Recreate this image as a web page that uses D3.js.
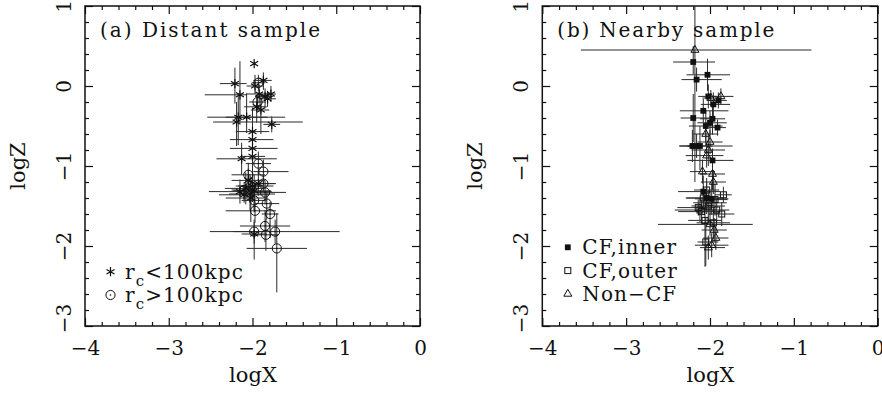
<!DOCTYPE html>
<html>
<head>
<meta charset="utf-8">
<script src="https://cdn.jsdelivr.net/npm/d3@7"></script>
<style>
  body { margin: 0; background: #fff; }
  text { font-family: "DejaVu Serif", serif; fill: #111; }
</style>
</head>
<body>
<svg id="chart" width="882" height="397"></svg>
<script>
// each row: [logX, logZ, dX-, dX+, dZ-, dZ+]
const distantSmall = [
  [-1.98, 0.28, 0, 0, 0, 0],
  [-2.21, 0.03, 0.18, 0.14, 0.25, 0.20],
  [-1.97, 0.00, 0.10, 0.10, 0.10, 0.14],
  [-1.87, 0.07, 0.12, 0.10, 0.12, 0.10],
  [-2.15, -0.11, 0.42, 0.08, 0.35, 0.42],
  [-1.92, -0.10, 0.15, 0.15, 0.12, 0.12],
  [-1.85, -0.13, 0.12, 0.10, 0.15, 0.10],
  [-1.78, -0.10, 0.08, 0.06, 0.10, 0.10],
  [-1.82, -0.16, 0.10, 0.10, 0.10, 0.10],
  [-1.95, -0.26, 0.15, 0.12, 0.20, 0.15],
  [-1.90, -0.30, 0.12, 0.10, 0.30, 0.20],
  [-2.17, -0.39, 0.37, 0.56, 0.35, 0.30],
  [-2.07, -0.39, 0.25, 0.25, 0.20, 0.30],
  [-2.19, -0.45, 0.28, 0.79, 0.30, 0.25],
  [-1.77, -0.48, 0.10, 0.10, 0.10, 0.10],
  [-2.00, -0.57, 0.20, 0.20, 0.30, 0.30],
  [-2.00, -0.67, 0.27, 0.25, 0.10, 0.10],
  [-2.00, -0.78, 0.27, 0.30, 0.25, 0.20],
  [-2.00, -0.88, 0.15, 0.15, 0.20, 0.20],
  [-2.13, -0.91, 0.30, 0.42, 0.20, 0.20],
  [-2.05, -1.18, 0.20, 0.20, 0.15, 0.15],
  [-2.15, -1.32, 0.37, 0.38, 0.15, 0.15],
  [-2.00, -1.25, 0.20, 0.25, 0.20, 0.20],
  [-1.98, -1.31, 0.25, 0.20, 0.25, 0.20],
  [-2.08, -1.28, 0.25, 0.20, 0.20, 0.20],
  [-2.03, -1.35, 0.25, 0.30, 0.20, 0.25],
  [-1.93, -1.22, 0.10, 0.20, 0.15, 0.15],
  [-2.10, -1.36, 0.30, 0.30, 0.10, 0.10],
  [-2.02, -1.40, 0.30, 0.20, 0.30, 0.20],
  [-1.98, -1.85, 0.15, 0.15, 0.32, 0.15]
];
const distantLarge = [
  [-1.93, 0.04, 0.08, 0.08, 0.10, 0.10],
  [-1.94, -0.20, 0.10, 0.10, 0.10, 0.10],
  [-1.93, -0.97, 0.15, 0.15, 0.15, 0.15],
  [-1.87, -1.07, 0.12, 0.30, 0.15, 0.15],
  [-2.05, -1.11, 0.20, 0.20, 0.15, 0.15],
  [-1.87, -1.22, 0.10, 0.15, 0.10, 0.10],
  [-1.85, -1.33, 0.15, 0.25, 0.15, 0.15],
  [-1.98, -1.43, 0.15, 0.15, 0.15, 0.15],
  [-1.83, -1.47, 0.15, 0.15, 0.20, 0.15],
  [-1.97, -1.56, 0.35, 0.25, 0.15, 0.15],
  [-1.79, -1.60, 0.10, 0.10, 0.30, 0.15],
  [-1.85, -1.75, 0.30, 0.30, 0.20, 0.20],
  [-1.98, -1.82, 0.25, 0.15, 0.15, 0.15],
  [-1.84, -1.86, 0.15, 0.15, 0.20, 0.20],
  [-1.73, -1.82, 0.78, 0.77, 0.15, 0.15],
  [-1.71, -2.03, 0.36, 0.36, 0.55, 0.44],
  [-2.10, -1.30, 0.15, 0.15, 0.10, 0.10],
  [-2.02, -1.25, 0.15, 0.15, 0.12, 0.12]
];
const nearbyInner = [
  [-2.20, 0.30, 0.24, 0.26, 0.15, 0.20],
  [-2.16, 0.08, 0.18, 0.30, 0.15, 0.15],
  [-2.03, 0.14, 0.25, 0.27, 0.20, 0.20],
  [-2.02, -0.13, 0.12, 0.10, 0.15, 0.15],
  [-1.96, -0.23, 0.15, 0.20, 0.20, 0.15],
  [-1.90, -0.18, 0.12, 0.10, 0.10, 0.10],
  [-2.08, -0.31, 0.28, 0.30, 0.15, 0.15],
  [-2.20, -0.40, 0.15, 0.25, 0.30, 0.30],
  [-2.05, -0.50, 0.20, 0.20, 0.20, 0.20],
  [-2.00, -0.46, 0.15, 0.20, 0.15, 0.15],
  [-1.97, -0.41, 0.15, 0.15, 0.20, 0.15],
  [-1.91, -0.52, 0.10, 0.10, 0.10, 0.10],
  [-2.21, -0.75, 0.16, 0.10, 0.20, 0.20],
  [-2.16, -0.75, 0.20, 0.43, 0.15, 0.15],
  [-2.12, -0.75, 0.15, 0.15, 0.30, 0.25],
  [-1.97, -0.93, 0.30, 0.25, 0.15, 0.15],
  [-2.08, -1.32, 0.30, 0.20, 0.20, 0.20],
  [-2.04, -1.40, 0.25, 0.20, 0.20, 0.20],
  [-1.98, -1.41, 0.20, 0.20, 0.20, 0.20]
];
const nearbyOuter = [
  [-2.08, -1.40, 0.20, 0.20, 0.15, 0.15],
  [-1.84, -1.36, 0.10, 0.10, 0.10, 0.10],
  [-2.12, -1.55, 0.30, 0.20, 0.15, 0.15],
  [-2.02, -1.50, 0.20, 0.20, 0.20, 0.20],
  [-1.86, -1.60, 0.15, 0.15, 0.15, 0.15],
  [-2.06, -1.68, 0.20, 0.20, 0.58, 0.30],
  [-1.96, -1.71, 0.20, 0.20, 0.20, 0.15],
  [-2.00, -1.46, 0.20, 0.20, 0.15, 0.15],
  [-2.14, -1.52, 0.25, 0.20, 0.10, 0.10],
  [-1.94, -1.42, 0.15, 0.15, 0.20, 0.20],
  [-2.04, -1.30, 0.15, 0.15, 0.15, 0.15],
  [-1.92, -1.55, 0.15, 0.15, 0.15, 0.15],
  [-2.10, -1.57, 0.28, 0.22, 0.15, 0.15],
  [-2.05, -1.95, 0.10, 0.15, 0.30, 0.30]
];
const nearbyNonCF = [
  [-2.18, 0.45, 1.36, 1.39, 1.65, 0.65],
  [-1.87, -0.13, 0.10, 0.15, 0.10, 0.10],
  [-1.99, -0.15, 0.10, 0.10, 0.10, 0.10],
  [-2.05, -0.60, 0.15, 0.15, 0.15, 0.15],
  [-2.00, -0.70, 0.15, 0.15, 0.15, 0.15],
  [-2.02, -0.80, 0.20, 0.20, 0.20, 0.20],
  [-2.04, -0.87, 0.25, 0.20, 0.15, 0.15],
  [-2.09, -1.07, 0.15, 0.15, 0.15, 0.15],
  [-1.97, -1.10, 0.15, 0.15, 0.20, 0.15],
  [-1.96, -1.20, 0.15, 0.15, 0.15, 0.15],
  [-2.00, -1.73, 0.62, 0.51, 0.15, 0.15],
  [-1.95, -1.80, 0.15, 0.15, 0.15, 0.15],
  [-1.93, -1.90, 0.15, 0.15, 0.15, 0.15],
  [-1.98, -1.99, 0.20, 0.20, 0.15, 0.15],
  [-2.02, -2.02, 0.10, 0.20, 0.15, 0.15]
];

const xMajor = [-4, -3, -2, -1, 0];
const zMajor = [-3, -2, -1, 0, 1];
const xMinor = d3.range(-4, 0.001, 0.2).filter(v => Math.abs(v - Math.round(v)) > 1e-6);
const zMinor = d3.range(-3, 1.001, 0.2).filter(v => Math.abs(v - Math.round(v)) > 1e-6);
const fmt = v => (v < 0 ? "\u2212" + Math.abs(v) : "" + v);

const svg = d3.select("#chart");
const plotTop = 6, plotBottom = 326;
const ink = "#111";

function marker(g, type, cx, cy) {
  if (type === "star") {
    const r = 4.6, p = d3.path();
    [90, 30, -30].forEach(a => {
      const t = a * Math.PI / 180;
      p.moveTo(cx - r * Math.cos(t), cy - r * Math.sin(t));
      p.lineTo(cx + r * Math.cos(t), cy + r * Math.sin(t));
    });
    g.append("path").attr("d", p.toString()).attr("stroke", ink).attr("stroke-width", 1.2).attr("fill", "none");
  } else if (type === "circle") {
    g.append("circle").attr("cx", cx).attr("cy", cy).attr("r", 4.6).attr("fill", "none").attr("stroke", ink).attr("stroke-width", 1);
    g.append("circle").attr("cx", cx).attr("cy", cy).attr("r", 0.8).attr("fill", ink);
  } else if (type === "fsquare") {
    g.append("rect").attr("x", cx - 2.9).attr("y", cy - 2.9).attr("width", 5.8).attr("height", 5.8).attr("fill", ink);
  } else if (type === "osquare") {
    g.append("rect").attr("x", cx - 3).attr("y", cy - 3).attr("width", 6).attr("height", 6).attr("fill", "none").attr("stroke", ink).attr("stroke-width", 1);
  } else if (type === "tri") {
    const s = 8, h = s * Math.sqrt(3) / 2;
    g.append("path")
      .attr("d", `M${cx},${cy - h * 2 / 3}L${cx + s / 2},${cy + h / 3}L${cx - s / 2},${cy + h / 3}Z`)
      .attr("fill", "none").attr("stroke", ink).attr("stroke-width", 1);
  }
}

function drawPanel(p) {
  const x = d3.scaleLinear().domain([-4, 0]).range([p.left, p.right]);
  const y = d3.scaleLinear().domain([-3, 1]).range([plotBottom, plotTop]);
  const g = svg.append("g");

  svg.append("clipPath").attr("id", "clip" + p.id)
    .append("rect").attr("x", p.left).attr("y", plotTop)
    .attr("width", p.right - p.left).attr("height", plotBottom - plotTop);

  // ticks on all four sides, pointing inward
  const sides = [
    [d3.axisBottom, x, xMajor, xMinor, `translate(0,${plotBottom})`],
    [d3.axisTop, x, xMajor, xMinor, `translate(0,${plotTop})`],
    [d3.axisLeft, y, zMajor, zMinor, `translate(${p.left},0)`],
    [d3.axisRight, y, zMajor, zMinor, `translate(${p.right},0)`]
  ];
  sides.forEach(([ax, sc, maj, min, tr], i) => {
    g.append("g").attr("transform", tr)
      .call(ax(sc).tickValues(min).tickSize(-4).tickFormat(""))
      .call(s => s.select(".domain").remove());
    const a = g.append("g").attr("transform", tr)
      .call(ax(sc).tickValues(maj).tickSize(-8).tickPadding(15).tickFormat(i === 0 || i === 2 ? fmt : ""))
      .call(s => s.select(".domain").remove());
    a.attr("font-family", null).attr("font-size", 20);
    if (i === 2) {
      a.selectAll("text")
        .attr("x", 0).attr("y", 0).attr("dy", null)
        .attr("text-anchor", "middle")
        .attr("transform", d => `translate(-14,${d === -3 ? -8 : 0}) rotate(-90)`);
    }
  });
  g.selectAll(".tick line").attr("stroke", ink).attr("stroke-width", 1.2);

  g.append("rect").attr("x", p.left).attr("y", plotTop)
    .attr("width", p.right - p.left).attr("height", plotBottom - plotTop)
    .attr("fill", "none").attr("stroke", ink).attr("stroke-width", 1.5);

  // data
  const d = g.append("g").attr("clip-path", `url(#clip${p.id})`);
  p.series.forEach(s => {
    s.rows.forEach(r => {
      const [lx, lz, xm, xp, zm, zp] = r;
      if (xm + xp > 0) d.append("line").attr("x1", x(lx - xm)).attr("x2", x(lx + xp))
        .attr("y1", y(lz)).attr("y2", y(lz)).attr("stroke", "#2b2b2b").attr("stroke-width", 1);
      if (zm + zp > 0) d.append("line").attr("x1", x(lx)).attr("x2", x(lx))
        .attr("y1", y(lz - zm)).attr("y2", y(lz + zp)).attr("stroke", "#2b2b2b").attr("stroke-width", 1);
    });
  });
  p.series.forEach(s => s.rows.forEach(r => marker(d, s.type, x(r[0]), y(r[1]))));

  // titles
  g.append("text").attr("x", p.left + 15).attr("y", 37).attr("font-size", 20)
    .attr("textLength", p.titleLen).attr("lengthAdjust", "spacing").text(p.title);
  g.append("text").attr("x", (p.left + p.right) / 2 + 0.5).attr("y", 382)
    .attr("font-size", 21).attr("text-anchor", "middle").text("logX");
  g.append("text").attr("transform", `translate(${p.left - 60},166) rotate(-90)`)
    .attr("font-size", 21).attr("text-anchor", "middle").text("logZ");

  // legend
  p.legend.forEach((l, i) => {
    const ly = p.legendY + i * 23.3;
    marker(g, l.type, p.left + 25.5, ly);
    const t = g.append("text").attr("x", p.left + 40).attr("y", ly + 7)
      .attr("font-size", 20).attr("letter-spacing", 1.1);
    if (l.sub) {
      t.append("tspan").text(l.label[0]);
      t.append("tspan").attr("font-size", 15).attr("dy", 7).text(l.sub);
      t.append("tspan").attr("dy", -7).text(l.label[1]);
    } else {
      t.text(l.label);
    }
  });
}

drawPanel({
  id: "a", left: 85, right: 420,
  title: "(a) Distant sample", titleLen: 220,
  series: [{ type: "star", rows: distantSmall }, { type: "circle", rows: distantLarge }],
  legendY: 271.7,
  legend: [
    { type: "star", label: ["r", "<100kpc"], sub: "c" },
    { type: "circle", label: ["r", ">100kpc"], sub: "c" }
  ]
});

drawPanel({
  id: "b", left: 542.3, right: 877.7,
  title: "(b) Nearby sample", titleLen: 217,
  series: [
    { type: "tri", rows: nearbyNonCF },
    { type: "osquare", rows: nearbyOuter },
    { type: "fsquare", rows: nearbyInner }
  ],
  legendY: 247.3,
  legend: [
    { type: "fsquare", label: "CF,inner" },
    { type: "osquare", label: "CF,outer" },
    { type: "tri", label: "Non\u2212CF" }
  ]
});
</script>
</body>
</html>
